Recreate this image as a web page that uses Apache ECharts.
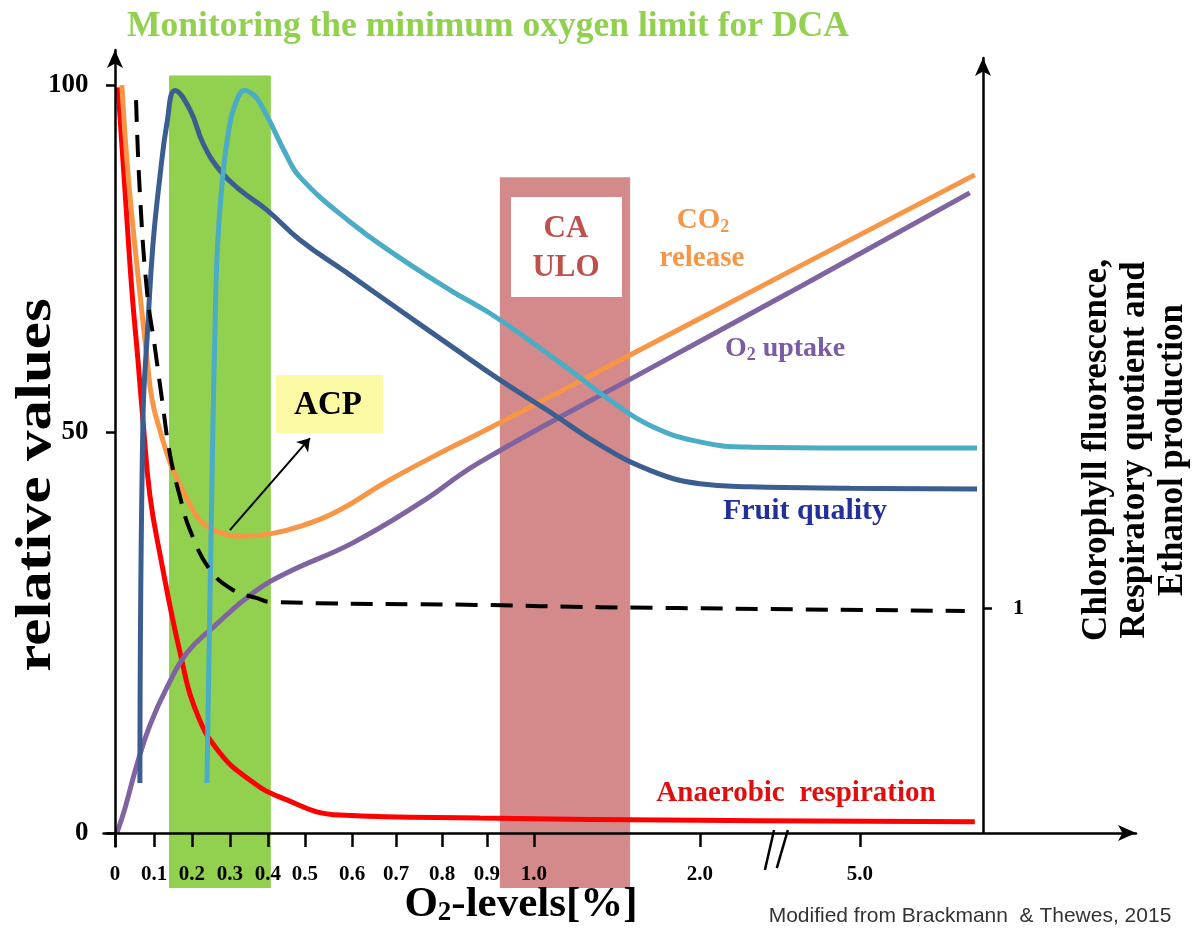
<!DOCTYPE html>
<html><head><meta charset="utf-8">
<script src="https://cdn.jsdelivr.net/npm/echarts@6/dist/echarts.min.js"></script>
<style>html,body{margin:0;padding:0;background:#fff}#c{width:1203px;height:928px}</style>
</head><body><div id="c"></div>
<script>
// The original O2 axis is not linear: x values below are positions along that drawn axis.
const xTickPos    = [0, 1.02, 2.01, 3.0, 3.99, 4.96, 6.19, 7.34, 8.54, 9.71, 10.94, 15.27, 19.45];
const xTickLabels = ['0','0.1','0.2','0.3','0.4','0.5','0.6','0.7','0.8','0.9','1.0','2.0','5.0'];
const yTickPos    = [0, 53.6, 100];
const yTickLabels = ['0','50','100'];
const rightTickPos    = [30.1];
const rightTickLabels = ['1'];

const fruitQuality = [[0.65,6.7],[0.73,55.2],[0.86,68.0],[0.99,78.6],[1.17,87.6],[1.36,95.0],[1.57,99.3],[1.96,96.7],[2.30,92.2],[2.74,88.6],[3.26,86.0],[3.97,83.3],[4.83,79.3],[6.14,74.6],[7.44,69.9],[8.75,65.2],[10.05,60.6],[11.36,56.3],[12.66,51.9],[13.97,48.5],[15.27,46.7],[16.58,46.3],[19.19,46.1],[22.51,46.0]];
const chlorophyll = [[2.40,6.7],[2.48,31.1],[2.56,55.2],[2.61,67.2],[2.66,76.6],[2.77,85.3],[2.95,93.3],[3.16,97.7],[3.39,99.3],[3.66,98.5],[3.86,96.9],[4.05,95.1],[4.44,91.0],[4.83,87.7],[6.14,81.7],[7.44,76.9],[8.75,72.6],[9.79,69.5],[10.84,65.8],[11.88,61.9],[12.92,57.9],[13.97,54.5],[15.27,52.3],[16.58,51.6],[19.19,51.5],[22.51,51.5]];
const co2Release = [[0.18,100.0],[0.31,90.0],[0.47,81.0],[0.65,72.2],[0.84,63.2],[0.97,57.9],[1.17,53.9],[1.44,49.5],[1.64,47.2],[1.96,43.9],[2.22,41.8],[2.74,40.2],[3.26,39.7],[4.05,40.0],[4.83,41.0],[5.87,43.2],[7.00,46.7],[8.22,50.1],[9.53,53.5],[12.40,61.1],[17.62,75.1],[22.45,88.0]];
const o2Uptake = [[0.05,0],[0.26,3.3],[0.57,9.1],[0.91,14.4],[1.36,19.5],[1.88,24.1],[2.56,27.5],[3.60,32.1],[4.49,34.8],[6.21,38.8],[7.96,44.1],[9.53,49.6],[13.89,61.9],[17.62,72.3],[22.32,85.6]];
const anaerobic = [[0.08,99.7],[0.26,86.0],[0.44,72.6],[0.60,63.2],[0.73,55.2],[0.91,45.2],[1.17,37.4],[1.70,24.1],[2.14,16.0],[2.74,10.7],[3.52,7.1],[4.31,4.8],[5.87,2.4],[9.53,2.0],[15.27,1.7],[22.45,1.5]];
const respQuotient = [[0.55,98.0],[0.65,85.6],[0.84,72.2],[1.04,65.0],[1.23,57.9],[1.44,50.5],[1.70,44.9],[1.96,40.5],[2.48,35.2],[3.08,32.5],[3.71,31.4],[4.05,30.9],[9.53,30.5],[12.66,30.2],[22.19,29.7]];

// shaded zones: [x0, x1, y0, y1]
const zones = [[1.41,4.07,-7.35,101.3],[10.05,13.45,-7.35,87.7]];
const zoneColors = ['#92d050','#d48a8a'];
// axis break marks: [x0, y0, x1, y1]
const breakMarks = [[16.97,-4.95,17.21,0.4],[17.28,-4.7,17.57,0.4]];
// ACP arrow
const acpArrow = [[3.0,40.5],[5.09,52.8]];

const SERIF = 'Liberation Serif';
const chart = echarts.init(document.getElementById('c'), null, {renderer:'canvas'});

function lineSeries(name, data, color, extra) {
  return Object.assign({
    name, type:'line', data, showSymbol:false, smooth:0.45,
    xAxisIndex:0, yAxisIndex:0, z:3,
    lineStyle:{color, width:5}, itemStyle:{color}
  }, extra || {});
}

const option = {
  animation:false,
  backgroundColor:'#fff',
  grid:[
    {left:103.5, right:67, top:50, bottom:81.5, containLabel:false},
    {left:103.5, width:879.5, top:58, bottom:95, containLabel:false}
  ],
  xAxis:[
    {type:'value', gridIndex:0, min:-0.3, max:26.66, z:10,
     axisLine:{show:true, onZero:true, lineStyle:{color:'#000', width:2.5}, symbol:['none','arrow'], symbolSize:[12,18]},
     axisTick:{show:true, customValues:xTickPos, length:14, inside:false, lineStyle:{color:'#000', width:2.5}},
     axisLabel:{show:true, customValues:xTickPos, margin:18, hideOverlap:false, color:'#000', fontFamily:SERIF, fontWeight:'bold', fontSize:21,
       formatter:(v)=>{const i=xTickPos.indexOf(v); return i>=0?xTickLabels[i]:'';}},
     splitLine:{show:false}},
    {type:'value', gridIndex:1, min:-0.3, max:22.66, show:false}
  ],
  yAxis:[
    {type:'value', gridIndex:0, min:-1.8, max:104.7, z:10,
     axisLine:{show:true, onZero:true, lineStyle:{color:'#000', width:2.5}, symbol:['none','arrow'], symbolSize:[12,18]},
     axisTick:{show:true, customValues:yTickPos, length:9, lineStyle:{color:'#000', width:2.5}},
     axisLabel:{show:true, customValues:yTickPos, margin:15, color:'#000', fontFamily:SERIF, fontWeight:'bold', fontSize:27,
       formatter:(v)=>{const i=yTickPos.indexOf(v); return i>=0?yTickLabels[i]:'';}},
     splitLine:{show:false}},
    {type:'value', gridIndex:1, position:'right', min:0, max:103.6, z:10,
     axisLine:{show:true, onZero:false, lineStyle:{color:'#000', width:2.5}, symbol:['none','arrow'], symbolSize:[12,18]},
     axisTick:{show:true, customValues:rightTickPos, length:9, lineStyle:{color:'#000', width:2.5}},
     axisLabel:{show:true, customValues:rightTickPos, margin:30, color:'#000', fontFamily:SERIF, fontWeight:'bold', fontSize:22,
       formatter:(v)=>{const i=rightTickPos.indexOf(v); return i>=0?rightTickLabels[i]:'';}},
     splitLine:{show:false}}
  ],
  series:[
    {type:'custom', name:'zones', xAxisIndex:0, yAxisIndex:0, z:1, clip:false, silent:true,
     data:zones, encode:{x:[0,1], y:[2,3]},
     renderItem:(params, api)=>{
       const p0 = api.coord([api.value(0), api.value(3)]);
       const p1 = api.coord([api.value(1), api.value(2)]);
       return {type:'rect', shape:{x:p0[0], y:p0[1], width:p1[0]-p0[0], height:p1[1]-p0[1]},
               style:{fill:zoneColors[params.dataIndex]}};
     }},
    lineSeries('Anaerobic respiration', anaerobic, '#ff0000'),
    lineSeries('O2 uptake', o2Uptake, '#8064a2'),
    lineSeries('CO2 release', co2Release, '#f79646'),
    lineSeries('Fruit quality', fruitQuality, '#3b5d8f'),
    lineSeries('Chlorophyll fluorescence', chlorophyll, '#4bacc6'),
    lineSeries('Respiratory quotient', respQuotient, '#000', {lineStyle:{color:'#000', width:4, type:[22,13]}, z:4}),
    {type:'lines', coordinateSystem:'cartesian2d', xAxisIndex:0, yAxisIndex:0, z:5, silent:true,
     symbol:['none','arrow'], symbolSize:12,
     lineStyle:{color:'#000', width:2, opacity:1},
     data:[{coords:acpArrow}]},
    {type:'custom', name:'break', xAxisIndex:0, yAxisIndex:0, z:11, clip:false, silent:true,
     data:breakMarks, encode:{x:[0,2], y:[1,3]},
     renderItem:(params, api)=>{
       const a = api.coord([api.value(0), api.value(1)]);
       const b = api.coord([api.value(2), api.value(3)]);
       return {type:'line', shape:{x1:a[0], y1:a[1], x2:b[0], y2:b[1]}, style:{stroke:'#000', lineWidth:2.5}};
     }}
  ],
  graphic:[
    {type:'text', x:488, y:27, z:100, style:{text:'Monitoring the minimum oxygen limit for DCA', font:'bold 35.5px "Liberation Serif"', fill:'#92d050', align:'center', verticalAlign:'middle'}},
    {type:'text', x:37, y:485, rotation:Math.PI/2, scaleX:1.22, z:100, style:{text:'relative values', font:'bold 50px "Liberation Serif"', fill:'#000', align:'center', verticalAlign:'middle'}},
    {type:'text', x:1135, y:450, rotation:Math.PI/2, z:100, style:{text:'Chlorophyll fluorescence,\nRespiratory quotient and\nEthanol production', font:'bold 35px "Liberation Serif"', lineHeight:38, fill:'#000', align:'center', verticalAlign:'middle'}},
    {type:'text', x:521, y:905, z:100, style:{text:'{a|O}{s|2}{a|-levels[%]}', align:'center', verticalAlign:'middle',
      rich:{a:{font:'bold 43px "Liberation Serif"', fill:'#000', lineHeight:44}, s:{font:'bold 27px "Liberation Serif"', fill:'#000', lineHeight:10, verticalAlign:'bottom'}}}},
    {type:'text', x:970, y:916, z:100, style:{text:'Modified from Brackmann  & Thewes, 2015', font:'21px "Liberation Sans"', fill:'#333', align:'center', verticalAlign:'middle'}},
    {type:'text', x:703, y:221, z:100, style:{text:'{a|CO}{s|2}', align:'center', verticalAlign:'middle',
      rich:{a:{font:'bold 29px "Liberation Serif"', fill:'#f79646', lineHeight:30}, s:{font:'bold 18px "Liberation Serif"', fill:'#f79646', lineHeight:8, verticalAlign:'bottom'}}}},
    {type:'text', x:702, y:259, z:100, style:{text:'release', font:'bold 29px "Liberation Serif"', fill:'#f79646', align:'center', verticalAlign:'middle'}},
    {type:'text', x:785, y:349, z:100, style:{text:'{a|O}{s|2}{a| uptake}', align:'center', verticalAlign:'middle',
      rich:{a:{font:'bold 28px "Liberation Serif"', fill:'#7a5ba6', lineHeight:30}, s:{font:'bold 18px "Liberation Serif"', fill:'#7a5ba6', lineHeight:8, verticalAlign:'bottom'}}}},
    {type:'text', x:805, y:511, z:100, style:{text:'Fruit quality', font:'bold 30px "Liberation Serif"', fill:'#23309c', align:'center', verticalAlign:'middle'}},
    {type:'text', x:796, y:794, z:100, style:{text:'Anaerobic  respiration', font:'bold 29px "Liberation Serif"', fill:'#e00f0f', align:'center', verticalAlign:'middle'}},
    {type:'rect', z:100, shape:{x:276, y:375, width:107, height:58}, style:{fill:'#fbf9a3'}},
    {type:'text', x:328, y:405, z:101, style:{text:'ACP', font:'bold 33px "Liberation Serif"', fill:'#000', align:'center', verticalAlign:'middle'}},
    {type:'rect', z:100, shape:{x:511, y:197, width:111, height:100}, style:{fill:'#ffffff'}},
    {type:'text', x:566, y:229, z:101, style:{text:'CA', font:'bold 31px "Liberation Serif"', fill:'#c0504d', align:'center', verticalAlign:'middle'}},
    {type:'text', x:566, y:268, z:101, style:{text:'ULO', font:'bold 31px "Liberation Serif"', fill:'#c0504d', align:'center', verticalAlign:'middle'}}
  ]
};
chart.setOption(option);
</script></body></html>
